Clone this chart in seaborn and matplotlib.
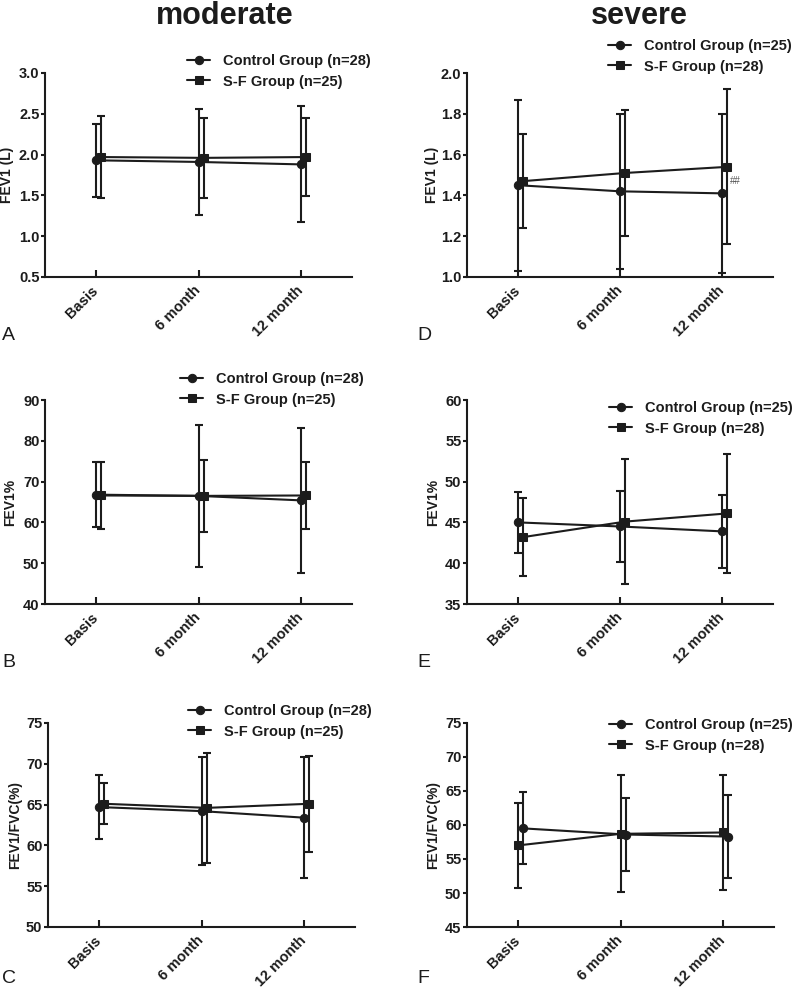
import numpy as np
import pandas as pd
import seaborn as sns
import matplotlib.pyplot as plt

sns.set_style("ticks")
plt.rcParams["font.family"] = ["Liberation Sans", "DejaVu Sans"]
plt.rcParams["font.weight"] = "bold"

timepoints = ["Basis", "6 month", "12 month"]

# A: moderate, FEV1 (L)
a_ctrl_mean = [1.93, 1.91, 1.88]
a_ctrl_sd = [0.45, 0.65, 0.71]
a_sf_mean = [1.97, 1.96, 1.97]
a_sf_sd = [0.50, 0.49, 0.48]

# D: severe, FEV1 (L)
d_ctrl_mean = [1.45, 1.42, 1.41]
d_ctrl_sd = [0.42, 0.38, 0.39]
d_sf_mean = [1.47, 1.51, 1.54]
d_sf_sd = [0.23, 0.31, 0.38]

# B: moderate, FEV1%
b_ctrl_mean = [66.8, 66.5, 65.4]
b_ctrl_sd = [8.0, 17.4, 17.7]
b_sf_mean = [66.6, 66.5, 66.6]
b_sf_sd = [8.1, 8.8, 8.2]

# E: severe, FEV1%
e_ctrl_mean = [45.0, 44.5, 43.9]
e_ctrl_sd = [3.7, 4.3, 4.5]
e_sf_mean = [43.2, 45.1, 46.1]
e_sf_sd = [4.8, 7.7, 7.3]

# C: moderate, FEV1/FVC(%)
c_ctrl_mean = [64.7, 64.2, 63.4]
c_ctrl_sd = [3.9, 6.6, 7.4]
c_sf_mean = [65.1, 64.6, 65.1]
c_sf_sd = [2.5, 6.7, 5.9]

# F: severe, FEV1/FVC(%)
f_ctrl_mean = [59.5, 58.6, 58.3]
f_ctrl_sd = [5.3, 5.4, 6.1]
f_sf_mean = [57.0, 58.7, 58.9]
f_sf_sd = [6.2, 8.6, 8.5]

mod_labels = ["Control Group (n=28)", "S-F Group (n=25)"]
sev_labels = ["Control Group (n=25)", "S-F Group (n=28)"]

W, H = 800, 988
ink = "#1c1c1c"

fig = plt.figure(figsize=(8, 9.88), dpi=100)

panels = [
    # letter, rect px (left, top, right, bottom), data, ylim, yticks, fmt, ylabel, labels, legend px, offsets (ctrl, sf), ylabel x px
    ("A", (45, 73, 352, 277), (a_ctrl_mean, a_ctrl_sd, a_sf_mean, a_sf_sd),
     (0.5, 3.0), np.arange(0.5, 3.01, 0.5), "{:.1f}", "FEV1 (L)", mod_labels, (187, 54), (0.0, 0.052), 7),
    ("D", (467, 73, 773, 277), (d_ctrl_mean, d_ctrl_sd, d_sf_mean, d_sf_sd),
     (1.0, 2.0), np.arange(1.0, 2.01, 0.2), "{:.1f}", "FEV1 (L)", sev_labels, (608, 39), (0.0, 0.052), 432),
    ("B", (45, 400, 352, 604), (b_ctrl_mean, b_ctrl_sd, b_sf_mean, b_sf_sd),
     (40, 90), np.arange(40, 91, 10), "{:.0f}", "FEV1%", mod_labels, (180, 372), (0.0, 0.052), 10),
    ("E", (467, 400, 773, 604), (e_ctrl_mean, e_ctrl_sd, e_sf_mean, e_sf_sd),
     (35, 60), np.arange(35, 61, 5), "{:.0f}", "FEV1%", sev_labels, (609, 401), (0.0, 0.052), 433),
    ("C", (48, 723, 355, 927), (c_ctrl_mean, c_ctrl_sd, c_sf_mean, c_sf_sd),
     (50, 75), np.arange(50, 76, 5), "{:.0f}", "FEV1/FVC(%)", mod_labels, (188, 704), (0.0, 0.052), 15),
    ("F", (467, 723, 774, 927), (f_ctrl_mean, f_ctrl_sd, f_sf_mean, f_sf_sd),
     (45, 75), np.arange(45, 76, 5), "{:.0f}", "FEV1/FVC(%)", sev_labels, (609, 718), (0.052, 0.0), 433),
]

letter_pos = {"A": (2, 335), "D": (417, 335), "B": (2, 662), "E": (417, 662),
              "C": (2, 978), "F": (417, 978)}

for letter, (l, t, r, b), (cm, cs, sm, ss), ylim, yticks, fmt, ylabel, labels, (lx, ly), (oc, osf), ylx in panels:
    ax = fig.add_axes([l / W, 1 - b / H, (r - l) / W, (b - t) / H])
    xc = np.arange(3) + oc
    xs = np.arange(3) + osf
    ctrl = pd.DataFrame({"x": xc, "y": cm})
    sf = pd.DataFrame({"x": xs, "y": sm})
    sns.lineplot(data=ctrl, x="x", y="y", ax=ax, color=ink, marker="o", markersize=6,
                 linewidth=1.5, markeredgecolor=ink, label=labels[0], zorder=3)
    sns.lineplot(data=sf, x="x", y="y", ax=ax, color=ink, marker="s", markersize=6,
                 linewidth=1.5, markeredgecolor=ink, label=labels[1], zorder=3)
    ax.errorbar(xc, cm, yerr=cs, fmt="none", ecolor=ink, elinewidth=1.5, capsize=3, capthick=1.5)
    ax.errorbar(xs, sm, yerr=ss, fmt="none", ecolor=ink, elinewidth=1.5, capsize=3, capthick=1.5)

    ax.set_xlim(-0.5, 2.5)
    ax.set_ylim(*ylim)
    ax.set_yticks(yticks)
    ax.set_yticklabels([fmt.format(v) for v in yticks], fontsize=10.5, fontweight="bold", color=ink)
    ax.set_xticks([0, 1, 2])
    ax.set_xticklabels(timepoints, rotation=45, ha="right", va="center", rotation_mode="anchor",
                       fontsize=10.5, fontweight="bold", color=ink)
    ax.tick_params(axis="x", direction="in", length=5, width=1.5, color=ink, pad=8)
    ax.tick_params(axis="y", direction="out", length=3, width=1.5, color=ink, pad=1)
    ax.set_xlabel("")
    ax.set_ylabel("")
    fig.text(ylx / W, 1 - (t + b) / 2 / H, ylabel, rotation=90, ha="center", va="center",
             fontsize=10, fontweight="bold", color=ink)
    sns.despine(ax=ax)
    for s in ("left", "bottom"):
        ax.spines[s].set_linewidth(1.5)
        ax.spines[s].set_color(ink)
    ax.set_facecolor("white")

    ax.legend(loc="upper left", bbox_to_anchor=(lx / W, 1 - ly / H), bbox_transform=fig.transFigure,
              frameon=False, borderpad=0, borderaxespad=0, handlelength=1.6, handletextpad=0.9,
              labelspacing=0.45, prop={"size": 10.5, "weight": "bold"})
    for txt in ax.get_legend().get_texts():
        txt.set_color(ink)

    if letter == "D":
        ax.text(2.08, 1.47, "##", fontsize=7, fontweight="normal", color="#555555", va="center")

    lpx, lpy = letter_pos[letter]
    fig.text(lpx / W, 1 - lpy / H, letter, fontsize=14, fontweight="normal", color=ink,
             ha="left", va="center")

fig.text(225 / W, 1 - 24 / H, "moderate", ha="center", va="baseline", fontsize=22, fontweight="bold", color=ink)
fig.text(639 / W, 1 - 24 / H, "severe", ha="center", va="baseline", fontsize=22, fontweight="bold", color=ink)

fig.savefig("out.png", dpi=100, facecolor="white")
